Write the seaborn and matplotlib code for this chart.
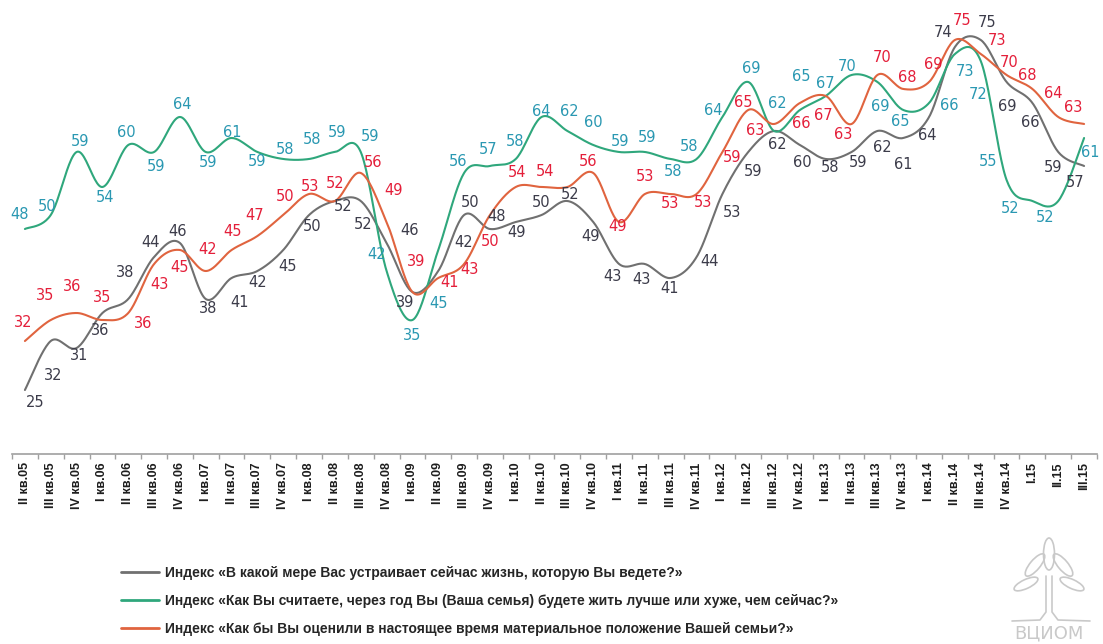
import numpy as np
import pandas as pd
import matplotlib
matplotlib.use("Agg")
import matplotlib.pyplot as plt
import seaborn as sns
from matplotlib.lines import Line2D
from matplotlib.patches import Ellipse

# ---- data -------------------------------------------------------------
quarters = [
    "II кв.05", "III кв.05", "IV кв.05",
    "I кв.06", "II кв.06", "III кв.06", "IV кв.06",
    "I кв.07", "II кв.07", "III кв.07", "IV кв.07",
    "I кв.08", "II кв.08", "III кв.08", "IV кв.08",
    "I кв.09", "II кв.09", "III кв.09", "IV кв.09",
    "I кв.10", "II кв.10", "III кв.10", "IV кв.10",
    "I кв.11", "II кв.11", "III кв.11", "IV кв.11",
    "I кв.12", "II кв.12", "III кв.12", "IV кв.12",
    "I кв.13", "II кв.13", "III кв.13", "IV кв.13",
    "I кв.14", "II кв.14", "III кв.14", "IV кв.14",
    "I.15", "II.15", "III.15",
]

life_index = [25, 32, 31, 36, 38, 44, 46, 38, 41, 42, 45, 50, 52, 52, 46, 39,
              42, 50, 48, 49, 50, 52, 49, 43, 43, 41, 44, 53, 59, 62, 60, 58,
              59, 62, 61, 64, 74, 75, 69, 66, 59, 57]
future_index = [48, 50, 59, 54, 60, 59, 64, 59, 61, 59, 58, 58, 59, 59, 42, 35,
                45, 56, 57, 58, 64, 62, 60, 59, 59, 58, 58, 64, 69, 62, 65, 67,
                70, 69, 65, 66, 73, 72, 55, 52, 52, 61]
wealth_index = [32, 35, 36, 35, 36, 43, 45, 42, 45, 47, 50, 53, 52, 56, 49, 39,
                41, 43, 50, 54, 54, 54, 56, 49, 53, 53, 53, 59, 65, 63, 66, 67,
                63, 70, 68, 69, 75, 73, 70, 68, 64, 63]

series_names = [
    "Индекс «В какой мере Вас устраивает сейчас жизнь, которую Вы ведете?»",
    "Индекс «Как Вы считаете, через год Вы (Ваша семья) будете жить лучше или хуже, чем сейчас?»",
    "Индекс «Как бы Вы оценили в настоящее время материальное положение Вашей семьи?»",
]

# ---- styling ----------------------------------------------------------
line_colors = ["#707070", "#2fa77c", "#e0643f"]
label_colors = ["#3c3c4a", "#2a98b2", "#e41f3a"]

# label offsets from their point, in pixels (right, down)
life_offsets = [(10, 12), (2, 34), (3, 7), (-2, 17), (-3, -27), (-4, -14), (-2, -11),
                (2, 9), (8, 24), (0, 12), (4, 17), (3, 12), (8, 6), (2, 24), (23, -12),
                (-7, 10), (25, -28), (6, -12), (7, -12), (1, 11), (0, -12), (3, -6),
                (-3, 15), (-7, 13), (-3, 16), (-1, 10), (13, 5), (10, 19), (5, 20),
                (3, 14), (2, 18), (4, 9), (6, 11), (5, 17), (0, 27), (-2, 19),
                (-12, -14), (6, -17), (1, 25), (-2, 20), (-5, 16), (-9, 17)]
future_offsets = [(-5, -14), (-4, -8), (3, -10), (3, 11), (-2, -12), (2, 15), (2, -12),
                  (2, 11), (1, -5), (0, 10), (2, -9), (3, -19), (2, -19), (9, -15),
                  (-10, -16), (0, 15), (0, 54), (-6, -11), (-2, -16), (-1, -17),
                  (0, -5), (2, -19), (0, -22), (1, -10), (2, -14), (2, 13), (-8, -12),
                  (-9, -6), (3, -13), (3, -27), (1, -33), (0, -12), (-4, -8), (3, 25),
                  (-3, 12), (20, 3), (10, 18), (-3, 34), (-19, -18), (-22, 8),
                  (-13, 17), (6, 15)]
wealth_offsets = [(-2, -19), (-6, -25), (-4, -27), (0, -23), (15, 10), (5, 21), (0, 18),
                  (2, -21), (1, -18), (-3, -20), (2, -18), (1, -7), (0, -17), (12, -10),
                  (7, -31), (4, -31), (11, 4), (5, 6), (0, 27), (1, -14), (3, -15), None,
                  (-5, -11), (-2, 5), (0, -17), (-1, 10), (6, 9), (10, 6), (-5, -7),
                  (-19, 7), (1, 21), (-2, 20), (-8, 11), (5, -17), (4, -11), (4, -17),
                  (7, -19), (16, -13), (3, -12), (-5, -13), (-5, -23), (-11, -16)]

CAPTION_FONT = ["Liberation Sans", "DejaVu Sans"]


def smooth_curve(values, steps=24):
    """Smoothed polyline through every point (cubic Bezier, Catmull-Rom tangents)."""
    y = np.asarray(values, dtype=float)
    x = np.arange(len(y), dtype=float)
    pts = np.column_stack([x, y])
    padded = np.vstack([pts[0], pts, pts[-1]])
    out = [pts[0]]
    t = np.linspace(0, 1, steps + 1)[1:, None]
    for i in range(len(pts) - 1):
        p0, p3 = padded[i + 1], padded[i + 2]
        c1 = p0 + (padded[i + 2] - padded[i]) / 6.0
        c2 = p3 - (padded[i + 3] - padded[i + 1]) / 6.0
        seg = ((1 - t) ** 3) * p0 + 3 * ((1 - t) ** 2) * t * c1 \
            + 3 * (1 - t) * t ** 2 * c2 + t ** 3 * p3
        out.extend(seg)
    out = np.array(out)
    return out[:, 0], out[:, 1]


frames = []
for name, vals in zip(series_names, [life_index, future_index, wealth_index]):
    sx, sy = smooth_curve(vals)
    frames.append(pd.DataFrame({"pos": sx, "value": sy, "series": name}))
curves = pd.concat(frames, ignore_index=True)

# ---- figure -----------------------------------------------------------
sns.set_theme(style="white")
plt.rcParams["font.family"] = ["DejaVu Sans"]

fig = plt.figure(figsize=(11.03, 6.44), dpi=100)
ax = fig.add_axes([12 / 1103, 190 / 644, 1085 / 1103, 454 / 644])

sns.lineplot(data=curves, x="pos", y="value", hue="series", hue_order=series_names,
             palette=line_colors, estimator=None, sort=False, linewidth=1.5,
             legend=False, ax=ax)

# value labels
for vals, offs, col in zip([life_index, future_index, wealth_index],
                           [life_offsets, future_offsets, wealth_offsets],
                           label_colors):
    for i, (v, off) in enumerate(zip(vals, offs)):
        if off is None:
            continue
        ax.annotate(str(v), xy=(i, v), xytext=(off[0], -off[1]),
                    textcoords="offset pixels", ha="center", va="center",
                    fontsize=10.5, color=col, family="DejaVu Sans")

ax.set_xlim(-0.5, len(quarters) - 0.5)
ax.set_ylim(15.86, 80.71)
ax.set_yticks([])
ax.set_xlabel("")
ax.set_ylabel("")
for side in ["left", "right", "top"]:
    ax.spines[side].set_visible(False)
ax.spines["bottom"].set_color("#a0a0a0")
ax.spines["bottom"].set_linewidth(1.2)

ax.set_xticks(np.arange(len(quarters)))
ax.set_xticklabels(quarters, rotation=90, fontsize=9, fontweight="bold",
                   family=CAPTION_FONT, color="#1e1e1e", va="top", ha="center")
ax.tick_params(axis="x", which="major", length=0, pad=6)
ax.set_xticks(np.arange(-0.5, len(quarters)), minor=True)
ax.tick_params(axis="x", which="minor", length=3.5, width=1.0, color="#a0a0a0",
               direction="out", bottom=True)

# legend
handles = [Line2D([], [], color=c, lw=2.0) for c in line_colors]
fig.legend(handles, series_names, loc="upper left",
           bbox_to_anchor=(121 / 1103, 1 - 566 / 644), frameon=False,
           borderpad=0, borderaxespad=0, handlelength=2.7, handletextpad=0.5,
           labelspacing=1.0,
           prop={"family": CAPTION_FONT, "weight": "bold", "size": 10})

# organisation mark, bottom right
logo = fig.add_axes([0, 0, 1, 1], zorder=-1)
logo.set_xlim(0, 1103)
logo.set_ylim(644, 0)
logo.axis("off")
mark = "#c9c9c9"
for cx, cy, w, h, ang in [(1049, 554, 11, 32, 0), (1035, 565, 10, 28, 40),
                          (1063, 565, 10, 28, -40), (1026, 584, 9, 26, 65),
                          (1072, 584, 9, 26, -65)]:
    logo.add_patch(Ellipse((cx, cy), w, h, angle=ang, fill=False,
                           edgecolor=mark, lw=1.2))
logo.plot([1046, 1046, 1040, 1012], [576, 612, 620, 621], color=mark, lw=1.2)
logo.plot([1052, 1052, 1058, 1090], [576, 612, 620, 621], color=mark, lw=1.2)
logo.text(1049, 633, "ВЦИОМ", ha="center", va="center", fontsize=13,
          color=mark, family="DejaVu Sans")

fig.savefig("out.png", dpi=100, facecolor="white")
